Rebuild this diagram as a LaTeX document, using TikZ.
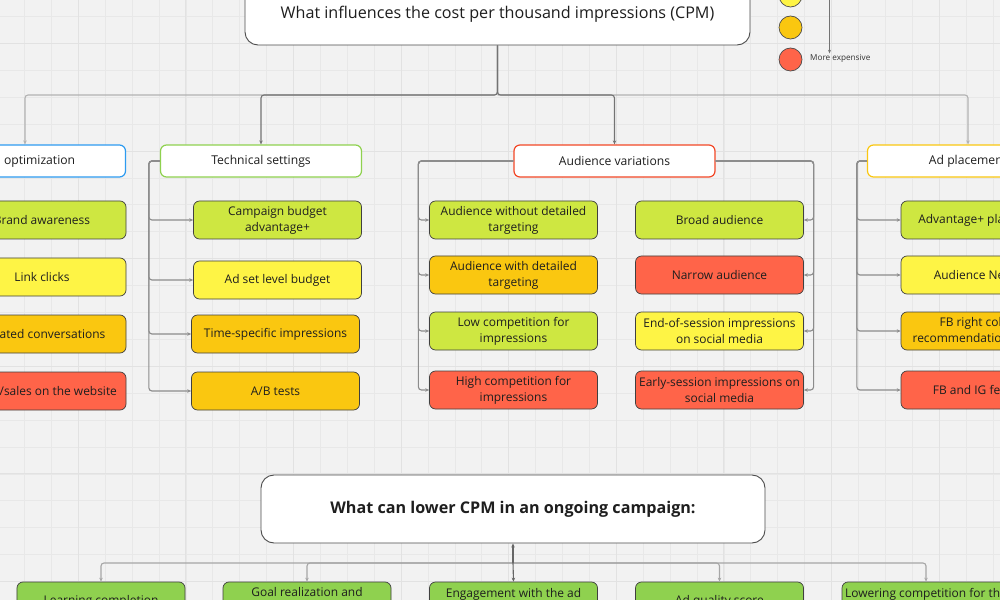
\documentclass[tikz,border=0pt]{standalone}
\usepackage{fontspec}
\setmainfont{Open Sans}
\usetikzlibrary{arrows.meta, positioning}
\definecolor{bggray}{HTML}{F2F2F2}
\definecolor{gridminor}{HTML}{E8E8E8}
\definecolor{gridmajor}{HTML}{E2E2E2}
\definecolor{limegreen}{HTML}{CEE741}
\definecolor{sunyellow}{HTML}{FEF445}
\definecolor{amber}{HTML}{FAC710}
\definecolor{tomato}{HTML}{FF6449}
\definecolor{leafgreen}{HTML}{8FD14F}
\definecolor{skyblue}{HTML}{2D9BF0}
\definecolor{brickred}{HTML}{F24726}
\definecolor{inkgray}{HTML}{1E1E1E}

\begin{document}
\begin{tikzpicture}[x=1bp, y=-1bp,
    itembox/.style={draw=black!75, fill=#1, line width=0.7bp, rounded corners=6bp,
        minimum width=168bp, minimum height=38bp, inner sep=1bp, align=center,
        text=inkgray, font=\fontsize{12}{16}\selectfont},
    headbox/.style={draw=#1, fill=white, line width=1.2bp, rounded corners=6bp,
        minimum width=201bp, minimum height=32bp, text=inkgray,
        font=\fontsize{12.2}{14}\selectfont},
    titlebox/.style={draw=black!70, fill=white, line width=0.9bp, rounded corners=13bp},
    legenddot/.style={circle, draw=black!70, fill=#1, line width=0.7bp, minimum size=23bp, inner sep=0pt},
    trunkline/.style={draw=#1, line width=1.1bp, rounded corners=3bp,
        -{Stealth[length=4bp,width=3.5bp]}},
    branchline/.style={draw=#1, line width=1.1bp, rounded corners=3bp,
        -{Stealth[length=4bp,width=3.5bp]}}
]
    \useasboundingbox (0,0) rectangle (1000,600);
    \clip (0,0) rectangle (1000,600);

    % Board background with grid
    \fill[bggray] (0,0) rectangle (1000,600);
    \foreach \i in {0,...,37} \draw[gridminor, line width=0.8bp] ({24.5+26.9*\i},0) -- ++(0,600);
    \foreach \j in {0,...,22} \draw[gridminor, line width=0.8bp] (0,{16.6+26.9*\j}) -- ++(1000,0);
    \foreach \i in {0,...,9} \draw[gridmajor, line width=1bp] ({78.3+107.6*\i},0) -- ++(0,600);
    \foreach \j in {0,...,5} \draw[gridmajor, line width=1bp] (0,{43.5+107.6*\j}) -- ++(1000,0);

    % Main question
    \node[titlebox, minimum width=505bp, minimum height=100bp] (influence) at (497.5,-5) {};
    \node[text=inkgray, font=\fontsize{16.2}{18}\selectfont] (influencetext) at (497.5,14)
        {What influences the cost per thousand impressions (CPM)};

    % Legend
    \node[legenddot=sunyellow] (cheapdot) at (790.5,-4.5) {};
    \node[legenddot=amber] (middot) at (790.5,27.5) {};
    \node[legenddot=tomato] (dearDot) at (790.5,59.5) {};
    \node[anchor=west, inner sep=1bp, text=black!80, font=\fontsize{8.2}{9}\selectfont] (moreexp) at (809,58.5) {More expensive};
    \coordinate (legendtop) at (829.5,-20);
    \draw[draw=black!55, line width=0.9bp, -{Stealth[length=3.5bp,width=3bp]}] (legendtop) -- (legendtop |- moreexp.north);

    % Category headers
    \node[headbox=skyblue] (goalopt) at (25,161) {Goal optimization};
    \node[headbox=leafgreen] (techset) at (261,161) {Technical settings};
    \node[headbox=brickred] (audvar) at (614.5,161) {Audience variations};
    \node[headbox=amber] (adplace) at (968,161) {Ad placement};

    \coordinate (hub) at (497.5,95);
    \draw[trunkline=black!30] (influence.south) |- (hub) -| (goalopt.north);
    \draw[trunkline=black!30] (hub) -| (adplace.north);
    \draw[trunkline=black!55] (influence.south) |- (hub) -| (techset.north);
    \draw[trunkline=black!55] (influence.south) |- (hub) -| (audvar.north);

    % Goal optimization
    \node[itembox=limegreen] (brand) at (42,220) {Brand awareness};
    \node[itembox=sunyellow] (clicks) at (42,277) {Link clicks};
    \node[itembox=amber] (convers) at (42,334) {Initiated conversations};
    \node[itembox=tomato] (leads) at (42,391) {Leads/sales on the website};

    % Technical settings
    \node[itembox=limegreen] (cbudget) at (277.5,220) {Campaign budget\\advantage+};
    \node[itembox=sunyellow] (adsetbudget) at (277.5,280) {Ad set level budget};
    \node[itembox=amber] (timeimp) at (275.5,334) {Time-specific impressions};
    \node[itembox=amber] (abtests) at (275.5,391) {A/B tests};
    \foreach \t in {abtests, timeimp, adsetbudget, cbudget}
        \draw[branchline=black!45] (techset.west) -- ++(-11,0) |- (\t.west);

    % Audience variations
    \node[itembox=limegreen] (nodetail) at (513.5,220) {Audience without detailed\\targeting};
    \node[itembox=amber] (detail) at (513.5,275) {Audience with detailed\\targeting};
    \node[itembox=limegreen] (lowcomp) at (513.5,331) {Low competition for\\impressions};
    \node[itembox=tomato] (highcomp) at (513.5,390) {High competition for\\impressions};
    \node[itembox=limegreen] (broad) at (719.5,220) {Broad audience};
    \node[itembox=tomato] (narrow) at (719.5,275) {Narrow audience};
    \node[itembox=sunyellow] (endsession) at (719.5,331) {End-of-session impressions\\on social media};
    \node[itembox=tomato] (earlysession) at (719.5,390) {Early-session impressions on\\social media};
    \foreach \t in {highcomp, lowcomp, detail, nodetail}
        \draw[branchline=black!45] (audvar.west) -- ++(-95,0) |- (\t.west);
    \foreach \t in {earlysession, endsession, narrow, broad}
        \draw[branchline=black!45] (audvar.east) -- ++(98,0) |- (\t.east);

    % Ad placement
    \node[itembox=limegreen] (advplace) at (985,220) {Advantage+ placements};
    \node[itembox=sunyellow] (audnet) at (985,275) {Audience Network};
    \node[itembox=amber] (rightcol) at (985,331) {FB right column,\\recommendations, search};
    \node[itembox=tomato] (feeds) at (985,390) {FB and IG feed ads};
    \foreach \t in {feeds, rightcol, audnet, advplace}
        \draw[branchline=black!45] (adplace.west) -- ++(-10,0) |- (\t.west);

    % Ongoing campaign
    \node[titlebox, minimum width=504bp, minimum height=68bp, text=inkgray,
        font=\bfseries\fontsize{16.2}{18}\selectfont] (lower) at (513,509)
        {What can lower CPM in an ongoing campaign:};
    \node[itembox=leafgreen] (learning) at (101,601) {Learning completion};
    \node[itembox=leafgreen] (goalreal) at (307,601) {Goal realization and\\optimization};
    \node[itembox=leafgreen] (engage) at (513.5,601) {Engagement with the ad\\and interactions};
    \node[itembox=leafgreen] (quality) at (719.5,601) {Ad quality score};
    \node[itembox=leafgreen] (lowering) at (926,601) {Lowering competition for the\\audience};

    \coordinate (lowhub) at (513,563);
    \foreach \t in {learning, goalreal, quality, lowering}
        \draw[trunkline=black!35] (lowhub) -| (\t.north);
    \draw[trunkline=black!60] (lowhub) -- (engage.north);
    \draw[trunkline=black!60] (lowhub) -- (lower.south);
\end{tikzpicture}
\end{document}
